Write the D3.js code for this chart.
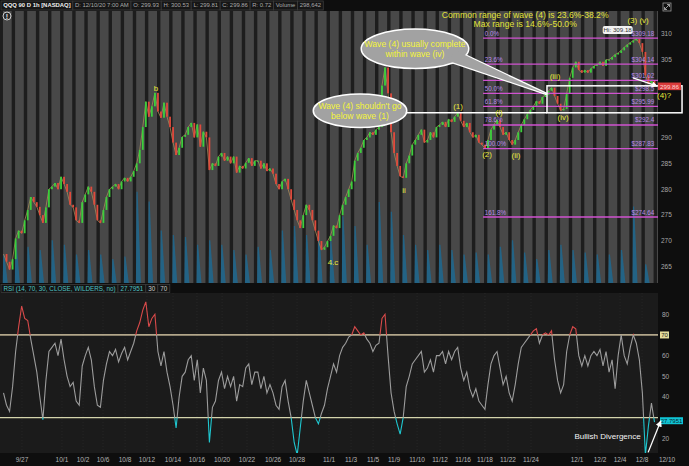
<!DOCTYPE html>
<html><head><meta charset="utf-8">
<script src="https://cdn.jsdelivr.net/npm/d3@7"></script>
<style>html,body{margin:0;padding:0;background:#0e0e0e;overflow:hidden}svg{display:block;font-family:"Liberation Sans",Arial,sans-serif}</style>
</head><body><svg id="c" width="689" height="466"></svg>
<script>
// ---------- DATA ----------
const dates = ["9/25","9/28","9/29","9/30","10/1","10/2","10/5","10/6","10/7","10/8","10/9","10/12","10/13","10/14","10/15","10/16","10/19","10/20","10/21","10/22","10/23","10/26","10/27","10/28","10/29","10/30","11/2","11/3","11/4","11/5","11/6","11/9","11/10","11/11","11/12","11/13","11/16","11/17","11/18","11/19","11/20","11/23","11/24","11/25","11/27","11/30","12/1","12/2","12/3","12/4","12/7","12/8","12/9","12/10"];
// closes, 4 bars per session
const closes = [
267.5,266.0,264.5,266.5, 270.5,272.0,271.5,274.0, 276.0,278.5,277.5,276.6, 275.0,273.5,276.5,280.0,
280.5,281.2,280.0,282.4, 281.0,279.5,277.0,276.5, 274.0,273.5,277.5,279.0, 280.5,279.5,277.0,274.0,
273.5,276.0,278.5,280.0, 280.5,281.0,280.0,281.5, 282.2,281.5,282.4,283.5, 285.0,287.6,292.0,296.9,
294.0,296.0,298.6,295.0, 293.8,296.7,294.0,292.0, 289.0,286.6,288.0,290.1, 290.5,292.0,292.8,290.0,
292.5,288.2,291.1,290.0, 283.7,285.0,284.5,286.3, 287.0,285.5,286.3,285.0, 286.3,283.2,284.5,284.0,
285.1,286.0,284.5,285.5, 285.5,284.0,285.0,283.5, 284.0,283.0,281.0,280.0, 281.5,282.0,280.0,278.0,
276.0,274.0,272.5,275.0, 277.0,276.0,274.0,272.0, 270.0,268.3,268.8,270.0, 271.0,273.0,272.5,275.0,
277.0,278.5,280.0,281.5, 285.5,287.0,288.0,289.5, 290.0,291.0,290.5,291.5, 292.0,300.0,303.5,298.5,
291.0,287.0,284.5,282.5, 282.2,285.0,286.5,288.6, 289.5,290.5,291.5,289.0, 289.5,291.0,290.0,292.0,
292.4,293.0,292.0,293.5, 293.0,294.0,294.75,293.2, 292.0,292.8,291.0,290.0, 290.5,289.0,288.6,287.9,
289.5,291.5,292.5,293.4, 292.0,290.5,291.0,289.5, 288.6,289.5,291.0,292.4, 293.5,294.5,295.3,296.0,
297.0,296.5,297.8,298.2, 299.0,299.6,298.0,296.5, 295.2,295.5,298.5,301.5, 303.5,304.6,303.0,302.5,
303.0,302.5,303.3,303.8, 304.0,304.6,303.8,305.0, 305.0,305.5,306.0,306.3, 306.8,307.4,307.9,308.3,
308.7,309.0,308.2,306.5, 302.0,300.4,301.0,299.86];
// opening-hour volume per session (millions)
const volumes = [4.4,6.3,5.6,5.1,6.6,5.9,4.4,5.1,4.4,3.7,4.1,14.1,12.6,8.1,7.4,7.1,5.9,6.6,5.9,5.1,4.4,5.6,5.1,8.1,8.8,7.4,8.1,6.6,10.3,8.8,5.9,12.5,11.0,7.4,5.9,5.1,5.9,5.1,4.4,4.7,4.4,5.6,6.6,4.7,3.7,5.1,5.9,5.1,4.7,4.4,4.4,5.1,11.8,2.9];
// RSI(14), 4 bars per session
const rsi = [
42,36,33,45, 62,74,84,78, 77,68,60,52, 40,29,48,62, 64,66,60,68, 58,50,45,47, 38,36,55,60, 64,58,45,36,
35,48,56,62, 60,63,57,61, 64,58,62,66, 72,76,82,86, 74,78,80,62, 55,62,52,45, 36,25,40,50, 52,58,60,48,
58,42,54,48, 18,35,38,48, 52,44,50,45, 50,38,46,45, 54,56,46,52, 52,44,50,42, 46,42,36,34, 45,48,38,30,
18,12,25,38, 48,42,36,30, 27,32,36,44, 50,56,52,60, 64,66,69,70, 74,72,70,71, 68,66,62,65, 66,78,80,60,
42,33,27,22, 30,45,50,56, 58,60,62,52, 54,58,52,60, 60,62,56,62, 58,62,64,54, 48,52,44,40, 44,38,36,34,
46,56,60,62, 54,46,50,42, 38,46,56,64, 66,68,70,72, 73,66,70,71, 70,72,58,48, 42,46,62,70, 74,73,60,55,
60,55,60,62, 60,63,55,62, 52,58,44,60, 70,60,56,64, 70,66,58,42, 12,26,37,27.7951];
const priceTicks = [265,270,275,280,285,290,310,305];
const rsiTicks = [20,40,50,60,80];
const timeTickPos = [1.65,4.95,6.69,8.34,10.16,11.97,14.12,16.10,18.17,20.23,22.38,24.36,27.0,28.82,30.64,32.37,34.27,36.17,38.07,39.88,41.78,43.68,47.48,49.38,51.03,52.85,54.91];
const timeTickLabels = ["9/27","10/1","10/2","10/6","10/8","10/12","10/14","10/16","10/20","10/22","10/26","10/28","11/1","11/3","11/5","11/9","11/10","11/12","11/16","11/18","11/22","11/24","12/1","12/2","12/4","12/8","12/10"];
const fibLevels = [0,0.236,0.382,0.5,0.618,0.786,1,1.618];
const fibLevelLabels = ["0.0%","23.6%","","50.0%","61.8%","78.6%","100.0%","161.8%"];
const fibHigh = 309.18, fibLow = 287.83;
const waveLabels = [
 {t:"b",d:12.72,p:299.6},{t:"4.c",d:27.33,p:265.98},{t:"ii",d:33.2,p:279.88},
 {t:"(1)",d:37.66,p:296.1},{t:"(2)",d:40.05,p:286.83},{t:"(i)",d:41.04,p:294.94},
 {t:"(ii)",d:42.44,p:286.64},{t:"(iii)",d:45.66,p:301.9},{t:"(iv)",d:46.33,p:293.98},
 {t:"(3) (v)",d:52.52,p:312.7},{t:"(4)?",d:54.67,p:298.22}];
const wave1High = 294.75, wave3iii = 299.96;
const headerItems = ["QQQ 90 D 1h [NASDAQ]","D: 12/10/20 7:00 AM","O: 299.93","H: 300.53","L: 299.81","C: 299.86","R: 0.72","Volume","298,642"];
const rsiHeaderItems = ["RSI (14, 70, 30, CLOSE, WILDERS, no)","27.7951","30","70"];
const lastPrice = 299.86, lastRsi = 27.7951;

// ---------- LAYOUT ----------
const W=689,H=466,L=0,R=658,pT=11,pB=283,rT=293,rB=453;
const svg = d3.select('#c');
const x = d3.scaleLinear().domain([0,54]).range([2,656]);
const y = d3.scaleLinear().domain([261.9,314.4]).range([pB,pT]);
const yr = d3.scaleLinear().domain([12.9,90.3]).range([rB,rT]);
const yv = d3.scaleLinear().domain([0,42]).range([pB,pT]);
const barD = i => Math.floor(i/4) + ((i%4)+0.5)/4;

svg.append('rect').attr('width',W).attr('height',H).attr('fill','#0e0e0e');
const defs = svg.append('defs');
defs.append('clipPath').attr('id','cp').append('rect').attr('x',L).attr('y',pT).attr('width',R-L).attr('height',pB-pT);
defs.append('clipPath').attr('id','chi').append('rect').attr('x',L).attr('y',rT).attr('width',R-L).attr('height',yr(70)-rT);
defs.append('clipPath').attr('id','cmid').append('rect').attr('x',L).attr('y',yr(70)).attr('width',R-L).attr('height',yr(30)-yr(70));
defs.append('clipPath').attr('id','clo').append('rect').attr('x',L).attr('y',yr(30)).attr('width',R-L).attr('height',rB-yr(30));
const mk = defs.append('marker').attr('id','ah').attr('viewBox','0 0 10 10').attr('refX',9).attr('refY',5)
  .attr('markerWidth',5).attr('markerHeight',5).attr('orient','auto');
mk.append('path').attr('d','M0,0L10,5L0,10Z').attr('fill','#fff');

// ---------- PRICE PANEL ----------
const gP = svg.append('g').attr('clip-path','url(#cp)');
gP.append('rect').attr('x',L).attr('y',pT).attr('width',R-L).attr('height',pB-pT).attr('fill','#484848');
d3.range(0,dates.length+1).forEach(i=>{
  gP.append('rect').attr('x',x(i-0.2)).attr('y',pT).attr('width',x(i+0.08)-x(i-0.2)).attr('height',pB-pT).attr('fill','#1d1d1d');
});
// volume
gP.selectAll('path.vol').data(volumes).join('path').attr('class','vol')
  .attr('d',(v,i)=>{const x0=x(i+0.1),yt=yv(v);return `M${x0-0.5},${pB}L${x0},${yt}L${x0+1.2},${yt}L${x0+4.5},${pB}Z`;})
  .attr('fill','#1d6890').attr('opacity',0.85);
// close path under candles
gP.append('path').datum(closes).attr('d',d3.line().x((c,i)=>x(barD(i))).y(c=>y(c)))
  .attr('fill','none').attr('stroke','#a88a5a').attr('stroke-width',0.8);
// candles
gP.selectAll('rect.c').data(closes.slice(1)).join('rect').attr('class','c')
  .attr('x',(c,k)=>x(barD(k+1))-0.9).attr('width',1.8)
  .attr('y',(c,k)=>y(Math.max(c,closes[k])))
  .attr('height',(c,k)=>Math.max(1,Math.abs(y(c)-y(closes[k]))))
  .attr('fill',(c,k)=>c>=closes[k]?'#3ccf3c':'#e04a3c');

// fib levels
const fg = gP.append('g');
fibLevels.forEach((lv,i)=>{
  const p = fibHigh - lv*(fibHigh-fibLow);
  fg.append('line').attr('x1',x(39.72)).attr('x2',x(54.3)).attr('y1',y(p)).attr('y2',y(p))
    .attr('stroke','#d052d0').attr('stroke-width',1.3);
  if(fibLevelLabels[i]) fg.append('text').attr('x',x(39.85)).attr('y',y(p)-2.5).text(fibLevelLabels[i])
    .attr('font-size',6.3).attr('fill','#b98be8');
  let s = p.toFixed(2).replace(/0$/,'');
  fg.append('text').attr('x',x(53.85)).attr('y',y(p)-2.5).attr('text-anchor','end').text('$'+s)
    .attr('font-size',6.3).attr('fill','#b98be8');
});

// callout 2 pointer line (wave 1 high) + rectangle
svg.append('line').attr('x1',x(29.6)).attr('x2',x(45.0)).attr('y1',y(wave1High)).attr('y2',y(wave1High))
  .attr('stroke','#fff').attr('stroke-width',1.5);
svg.append('rect').attr('x',x(45.0)).attr('y',y(wave3iii)).attr('width',x(56.15)-x(45.0))
  .attr('height',y(wave1High)-y(wave3iii)).attr('fill','none').attr('stroke','#fff').attr('stroke-width',1.5);

// callouts
function callout(cx,cy,rx,ry,wedge,lines,fs){
  const g = svg.append('g');
  const ell = g=>g.append('ellipse').attr('cx',cx).attr('cy',cy).attr('rx',rx).attr('ry',ry);
  ell(g).attr('fill','#fff').attr('stroke','#fff').attr('stroke-width',3);
  if(wedge) g.append('path').attr('d','M'+wedge.map(p=>p.join(',')).join('L')+'Z').attr('fill','#fff').attr('stroke','#fff').attr('stroke-width',2.6).attr('stroke-linejoin','round');
  ell(g).attr('fill','#a2a2a2');
  if(wedge) g.append('path').attr('d','M'+wedge.map(p=>p.join(',')).join('L')+'Z').attr('fill','#a2a2a2');
  lines.forEach((t,i)=>g.append('text').attr('x',cx).attr('y',cy+(i-(lines.length-1)/2)*10.5+3)
    .attr('text-anchor','middle').attr('font-size',fs).attr('fill','#f4f43a').text(t));
}
callout(x(34.1),y(307.1),53,19,[[x(36.6),y(307.1)+11],[x(37.65),y(307.1)+3],[x(44.92),y(298.42)]],["Wave (4) usually complete","within wave (iv)"],8.6);
callout(x(29.56),y(295.14),46,16,null,["Wave (4) shouldn't go","below wave (1)"],8.6);

// wave labels
svg.selectAll('text.wl').data(waveLabels).join('text').attr('class','wl')
  .attr('x',d=>x(d.d)).attr('y',d=>y(d.p)+3).attr('text-anchor','middle')
  .attr('font-size',8).attr('fill','#e8e83c').text(d=>d.t);

// common range text
svg.append('text').attr('x',x(43.2)).attr('y',18).attr('text-anchor','middle').attr('font-size',8.6).attr('fill','#e2e23a').text('Common range of wave (4) is 23.6%-38.2%');
svg.append('text').attr('x',x(43.2)).attr('y',27).attr('text-anchor','middle').attr('font-size',8.6).attr('fill','#e2e23a').text('Max range is 14.6%-50.0%');

// Hi box
const hx0 = x(49.6);
svg.append('rect').attr('x',hx0).attr('y',y(fibHigh)-12).attr('width',30).attr('height',8).attr('rx',2).attr('fill','#f2f2f2');
svg.append('text').attr('x',hx0+15).attr('y',y(fibHigh)-5.6).attr('text-anchor','middle').attr('font-size',6.2).attr('fill','#333').text('Hi: '+fibHigh);

// arrow to last price
svg.append('line').attr('x1',x(52.1)).attr('y1',y(301.5)).attr('x2',x(54.1)).attr('y2',y(299.9))
  .attr('stroke','#fff').attr('stroke-width',1.2).attr('marker-end','url(#ah)');

// right axis price
svg.selectAll('text.pt').data(priceTicks).join('text').attr('class','pt').attr('x',661).attr('y',d=>y(d)+2.3)
  .attr('font-size',6.5).attr('fill','#a8a8a8').text(d=>d);
svg.append('rect').attr('x',658).attr('y',y(lastPrice)-3.8).attr('width',23).attr('height',7.6).attr('fill','#d93b3b');
svg.append('text').attr('x',669.5).attr('y',y(lastPrice)+2.2).attr('text-anchor','middle').attr('font-size',6.2).attr('fill','#ffd6d6').text(lastPrice.toFixed(2));

// header
let hx=1;
headerItems.forEach((t,i)=>{
  const g=svg.append('g');
  const tx=g.append('text').attr('x',hx+2.2).attr('y',7.4).attr('font-size',5.9).attr('font-weight',i==0?'bold':'normal')
    .attr('fill',i==0?'#f0f0f0':'#a9a9a9').text(t);
  const w=tx.node().getComputedTextLength()+4.4;
  g.insert('rect','text').attr('x',hx).attr('y',1).attr('width',w).attr('height',9).attr('fill','#161616').attr('stroke','#3c3c3c').attr('stroke-width',0.8);
  hx+=w;
});
// info icon
svg.append('circle').attr('cx',7).attr('cy',16).attr('r',4).attr('fill','#2a2a2a').attr('stroke','#cfcfcf').attr('stroke-width',1);
svg.append('text').attr('x',7).attr('y',18.6).attr('text-anchor','middle').attr('font-size',7).attr('font-weight','bold').attr('fill','#e0e0e0').text('!');
// top right icon
svg.append('rect').attr('x',663).attr('y',3).attr('width',8).attr('height',8).attr('fill','none').attr('stroke','#9a9a9a').attr('stroke-width',0.8);
svg.append('path').attr('d','M664.5,9.5L669.5,4.5M667,4.5h2.5v2.5M664.5,7v2.5h2.5').attr('fill','none').attr('stroke','#bbb').attr('stroke-width',0.8);

// ---------- RSI PANEL ----------
let rx=1;
rsiHeaderItems.forEach((t,i)=>{
  const g=svg.append('g');
  const tx=g.append('text').attr('x',rx+2.5).attr('y',290.5).attr('font-size',6.3)
    .attr('fill',i<2?'#4fc3c3':'#c8c8c8').text(t);
  const w=tx.node().getComputedTextLength()+5;
  g.insert('rect','text').attr('x',rx).attr('y',284.5).attr('width',w).attr('height',8).attr('fill','#141414').attr('stroke','#3c3c3c').attr('stroke-width',0.8);
  rx+=w;
});
const gR = svg.append('g');
gR.append('rect').attr('x',L).attr('y',rT).attr('width',R-L).attr('height',rB-rT).attr('fill','#1b1b1b');
gR.selectAll('line.vg').data(timeTickPos.filter(d=>x(d)<R)).join('line').attr('class','vg')
  .attr('x1',d=>x(d)).attr('x2',d=>x(d)).attr('y1',rT).attr('y2',rB).attr('stroke','#2a2a2a').attr('stroke-width',0.8).attr('stroke-dasharray','1,2');
gR.append('line').attr('x1',L).attr('x2',R).attr('y1',yr(70)).attr('y2',yr(70)).attr('stroke','#b2a68a').attr('stroke-width',1.8);
gR.append('line').attr('x1',L).attr('x2',R).attr('y1',yr(30)).attr('y2',yr(30)).attr('stroke','#d4d4ac').attr('stroke-width',1.1);
const rline = d3.line().x((v,i)=>x(barD(i))).y(v=>yr(v));
[['cmid','#9c9c9c'],['chi','#d84a4a'],['clo','#1fc6cf']].forEach(([c,col])=>{
  gR.append('path').datum(rsi).attr('d',rline).attr('fill','none').attr('stroke',col).attr('stroke-width',1.1).attr('clip-path',`url(#${c})`);
});
svg.selectAll('text.rt').data(rsiTicks).join('text').attr('class','rt').attr('x',662).attr('y',d=>yr(d)+2.3)
  .attr('font-size',6.5).attr('fill','#a8a8a8').text(d=>d);
svg.append('rect').attr('x',660).attr('y',yr(70)-3.5).attr('width',9).attr('height',7).attr('fill','#e4dc9a');
svg.append('text').attr('x',664.5).attr('y',yr(70)+2.2).attr('text-anchor','middle').attr('font-size',6).attr('fill','#222').text('70');
svg.append('rect').attr('x',660).attr('y',yr(lastRsi)-5).attr('width',23).attr('height',7).attr('fill','#10c4d4');
svg.append('text').attr('x',671.5).attr('y',yr(lastRsi)+0.6).attr('text-anchor','middle').attr('font-size',6).attr('fill','#0b2a30').text(lastRsi);
// bullish divergence
svg.append('text').attr('x',x(50.0)).attr('y',yr(19.5)).attr('text-anchor','middle').attr('font-size',8).attr('fill','#f4f4f4').text('Bullish Divergence');
svg.append('line').attr('x1',x(53.35)).attr('y1',yr(13.2)).attr('x2',x(54.4)).attr('y2',yr(28.5))
  .attr('stroke','#fff').attr('stroke-width',1.3).attr('marker-end','url(#ah)');

// time axis
svg.selectAll('text.tt').data(timeTickPos).join('text').attr('class','tt').attr('x',d=>x(d)).attr('y',462)
  .attr('text-anchor','middle').attr('font-size',6.5).attr('fill','#b4b4b4').text((d,i)=>timeTickLabels[i]);
</script></body></html>
